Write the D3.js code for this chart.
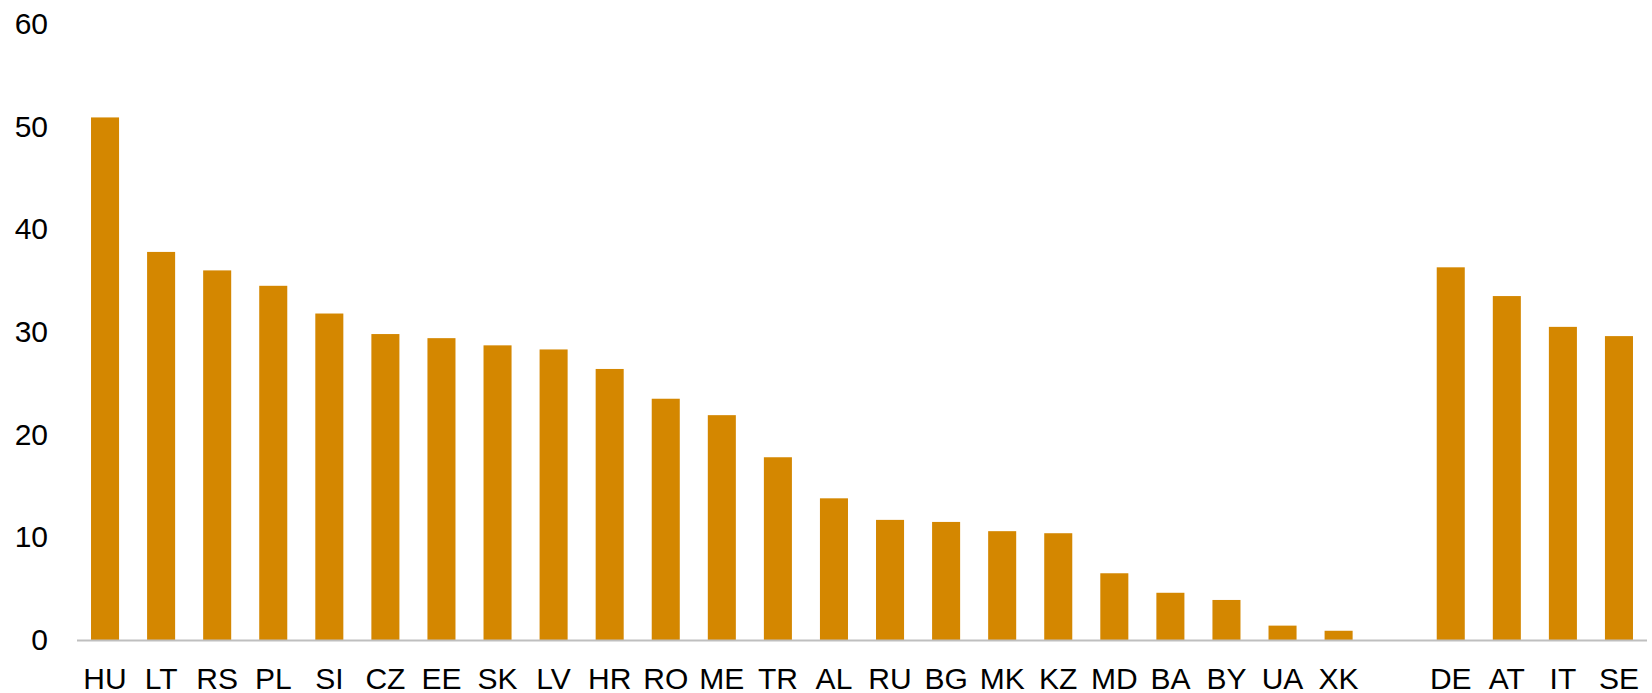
<!DOCTYPE html>
<html>
<head>
<meta charset="utf-8">
<script src="https://cdn.jsdelivr.net/npm/d3@7"></script>
<style>
  html, body { margin: 0; padding: 0; background: #ffffff; }
  svg { display: block; }
  text { font-family: "Liberation Sans", Arial, sans-serif; fill: #000; }
</style>
</head>
<body>
<svg id="chart" width="1652" height="693"></svg>
<script>
// Country codes (empty slot separates the two groups)
const categories = ["HU","LT","RS","PL","SI","CZ","EE","SK","LV","HR","RO","ME","TR","AL","RU","BG","MK","KZ","MD","BA","BY","UA","XK","","DE","AT","IT","SE"];
const values = [50.9,37.8,36.0,34.5,31.8,29.8,29.4,28.7,28.3,26.4,23.5,21.9,17.8,13.8,11.7,11.5,10.6,10.4,6.5,4.6,3.9,1.4,0.9,null,36.3,33.5,30.5,29.6];
const yTicks = [0,10,20,30,40,50,60];

const W = 1652, H = 693;
const margin = { left: 77, right: 5, top: 24, bottom: 53 };
const svg = d3.select("#chart");

const x = d3.scaleBand()
  .domain(d3.range(categories.length))
  .range([margin.left, W - margin.right])
  .paddingInner(0.5)
  .paddingOuter(0.25);

const y = d3.scaleLinear()
  .domain([0, 60])
  .range([H - margin.bottom, margin.top]);

// Bars
svg.append("g")
  .selectAll("rect")
  .data(values.map((v, i) => ({ v, i })).filter(d => d.v !== null))
  .join("rect")
  .attr("x", d => x(d.i))
  .attr("width", x.bandwidth())
  .attr("y", d => y(d.v))
  .attr("height", d => y(0) - y(d.v))
  .attr("fill", "#d48700");

// Baseline
svg.append("line")
  .attr("x1", margin.left)
  .attr("x2", W - margin.right)
  .attr("y1", y(0) + 0.5)
  .attr("y2", y(0) + 0.5)
  .attr("stroke", "#bfbfbf")
  .attr("stroke-width", 2);

// Y axis labels
const yAxis = d3.axisLeft(y).tickValues(yTicks).tickSize(0).tickPadding(0);
const gy = svg.append("g")
  .attr("transform", "translate(48,0)")
  .call(yAxis);
gy.select(".domain").remove();
gy.selectAll("text")
  .attr("font-size", 30)
  .attr("font-family", "Liberation Sans, Arial, sans-serif")
  .attr("fill", "#000");

// X axis labels
const xAxis = d3.axisBottom(x).tickFormat(i => categories[i]).tickSize(0).tickPadding(0);
const gx = svg.append("g")
  .attr("transform", `translate(0,${y(0)})`)
  .call(xAxis);
gx.select(".domain").remove();
gx.selectAll("text")
  .attr("font-size", 30)
  .attr("font-family", "Liberation Sans, Arial, sans-serif")
  .attr("fill", "#000")
  .attr("dy", null)
  .attr("y", 49);
</script>
</body>
</html>
